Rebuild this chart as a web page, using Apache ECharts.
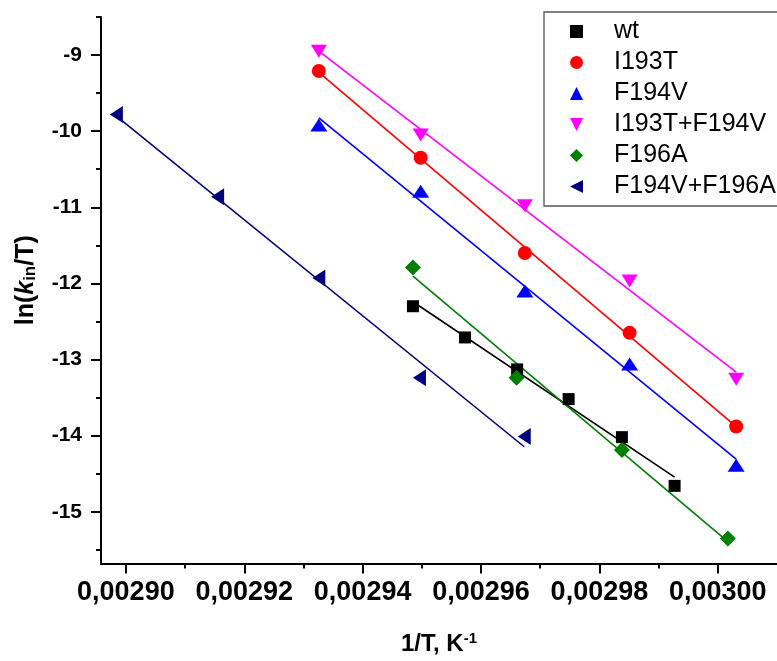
<!DOCTYPE html>
<html>
<head>
<meta charset="utf-8">
<script src="https://cdn.jsdelivr.net/npm/echarts@6/dist/echarts.min.js"></script>
<style>
  html, body { margin: 0; padding: 0; background: #fff; }
  #main { width: 777px; height: 661px; }
</style>
</head>
<body>
<div id="main"></div>
<script>
var dom = document.getElementById('main');
var myChart = echarts.init(dom, null, { renderer: 'canvas' });

var FONT = 'Liberation Sans, Arial, sans-serif';

// 1/T values (K^-1) and ln(k_in/T) per mutant
var invT_wt = [0.0029485, 0.0029573, 0.0029661, 0.0029748, 0.0029838, 0.0029927];
var lnk_wt = [-12.30, -12.71, -13.13, -13.52, -14.02, -14.66];

var invT_I193T = [0.0029326, 0.0029498, 0.0029674, 0.0029851, 0.0030031];
var lnk_I193T = [-9.21, -10.35, -11.60, -12.65, -13.88];

var invT_F194V = [0.0029326, 0.0029498, 0.0029674, 0.0029851, 0.0030031];
var lnk_F194V = [-9.92, -10.79, -12.10, -13.06, -14.39];

var invT_I193T_F194V = [0.0029326, 0.0029498, 0.0029674, 0.0029851, 0.0030031];
var lnk_I193T_F194V = [-8.95, -10.05, -10.98, -11.97, -13.26];

var invT_F196A = [0.0029485, 0.0029660, 0.0029838, 0.0030017];
var lnk_F196A = [-11.79, -13.24, -14.19, -15.35];

var invT_F194V_F196A = [0.0028984, 0.0029155, 0.0029326, 0.0029496, 0.0029673];
var lnk_F194V_F196A = [-9.78, -10.86, -11.93, -13.24, -14.01];

var names = ['wt', 'I193T', 'F194V', 'I193T+F194V', 'F196A', 'F194V+F196A'];
var colors = ['#000000', '#ff0000', '#0000ff', '#ff00ff', '#008000', '#000080'];

var xMajor = [0.00290, 0.00292, 0.00294, 0.00296, 0.00298, 0.00300];
var xMinor = [0.00291, 0.00293, 0.00295, 0.00297, 0.00299];
var yMajor = [-9, -10, -11, -12, -13, -14, -15];
var yMinor = [-8.5, -9.5, -10.5, -11.5, -12.5, -13.5, -14.5, -15.5];

var triDown = 'path://M0,0 L10,0 L5,10 Z';
var triLeft = 'path://M10,0 L10,10 L0,5 Z';

var groups = [
  { x: invT_wt, y: lnk_wt, symbol: 'rect', size: 12 },
  { x: invT_I193T, y: lnk_I193T, symbol: 'circle', size: 14 },
  { x: invT_F194V, y: lnk_F194V, symbol: 'triangle', size: [17, 13] },
  { x: invT_I193T_F194V, y: lnk_I193T_F194V, symbol: triDown, size: [16, 13] },
  { x: invT_F196A, y: lnk_F196A, symbol: 'diamond', size: [16, 16] },
  { x: invT_F194V_F196A, y: lnk_F194V_F196A, symbol: triLeft, size: [13, 17] }
];

// least squares line over the range of the points
function fitLine(xs, ys) {
  var n = xs.length, mx = 0, my = 0;
  for (var i = 0; i < n; i++) { mx += xs[i]; my += ys[i]; }
  mx /= n; my /= n;
  var sxy = 0, sxx = 0;
  for (var j = 0; j < n; j++) {
    sxy += (xs[j] - mx) * (ys[j] - my);
    sxx += (xs[j] - mx) * (xs[j] - mx);
  }
  var b = sxy / sxx, a = my - b * mx;
  var x0 = Math.min.apply(null, xs), x1 = Math.max.apply(null, xs);
  return [[x0, a + b * x0], [x1, a + b * x1]];
}

var series = [];
groups.forEach(function (g, k) {
  series.push({
    name: names[k] + ' fit',
    type: 'line',
    data: fitLine(g.x, g.y),
    symbol: 'none',
    silent: true,
    lineStyle: { color: colors[k], width: 1.6 },
    z: 2
  });
});
groups.forEach(function (g, k) {
  series.push({
    name: names[k],
    type: 'scatter',
    data: g.x.map(function (v, i) { return [v, g.y[i]]; }),
    symbol: g.symbol,
    symbolSize: g.size,
    itemStyle: { color: colors[k], opacity: 1 },
    z: 3
  });
});

var legendData = names.map(function (n, k) {
  return { name: n, icon: groups[k].symbol };
});

var xMin = 0.0028958, xMax = 0.00301;
var yMin = -15.68, yMax = -8.5;

var option = {
  animation: false,
  backgroundColor: '#ffffff',
  grid: { left: 101, top: 17, width: 680, height: 549 },
  legend: {
    orient: 'vertical',
    left: 544,
    top: 12,
    data: legendData,
    itemWidth: 13,
    itemHeight: 13,
    itemGap: 6,
    padding: [7, 80, 7, 26],
    borderColor: '#555',
    borderWidth: 1.3,
    formatter: function (n) { return '{sp|}' + n; },
    textStyle: {
      fontFamily: FONT, fontSize: 25, lineHeight: 25, color: '#000',
      rich: { sp: { width: 26 } }
    }
  },
  xAxis: [
    {
      type: 'value',
      min: xMin,
      max: xMax,
      position: 'bottom',
      name: '1/T, K{sup|-1}',
      nameLocation: 'middle',
      nameGap: 68,
      nameTextStyle: {
        fontFamily: FONT, fontSize: 24, fontWeight: 'bold', color: '#000',
        rich: { sup: { fontFamily: FONT, fontSize: 15, fontWeight: 'bold', color: '#000', verticalAlign: 'top', padding: [0, 0, 10, 0] } }
      },
      splitLine: { show: false },
      axisLine: { lineStyle: { color: '#000', width: 2 } },
      axisTick: { customValues: xMajor, length: 10, inside: false, lineStyle: { color: '#000', width: 2 } },
      axisLabel: {
        customValues: xMajor,
        margin: 16,
        fontFamily: FONT, fontSize: 27, fontWeight: 'bold', color: '#000',
        formatter: function (v) { return v.toFixed(5).replace('.', ','); }
      }
    },
    {
      type: 'value',
      min: xMin,
      max: xMax,
      position: 'bottom',
      splitLine: { show: false },
      axisLine: { show: false },
      axisTick: { customValues: xMinor, length: 5, lineStyle: { color: '#000', width: 2 } },
      axisLabel: { show: false }
    }
  ],
  yAxis: [
    {
      type: 'value',
      min: yMin,
      max: yMax,
      position: 'left',
      name: 'ln({k|k}{sub|in}/T)',
      nameLocation: 'middle',
      nameRotate: 90,
      nameGap: 62,
      nameTextStyle: {
        fontFamily: FONT, fontSize: 25, fontWeight: 'bold', color: '#000',
        padding: [0, 0, 0, 20],
        rich: {
          k: { fontFamily: FONT, fontSize: 25, fontWeight: 'bold', fontStyle: 'italic', color: '#000' },
          sub: { fontFamily: FONT, fontSize: 17, fontWeight: 'bold', color: '#000', verticalAlign: 'bottom', padding: [8, 0, 0, 0] }
        }
      },
      splitLine: { show: false },
      axisLine: { lineStyle: { color: '#000', width: 2 } },
      axisTick: { customValues: yMajor, length: 10, lineStyle: { color: '#000', width: 2 } },
      axisLabel: {
        customValues: yMajor,
        margin: 19,
        fontFamily: FONT, fontSize: 21, fontWeight: 'bold', color: '#000'
      }
    },
    {
      type: 'value',
      min: yMin,
      max: yMax,
      position: 'left',
      splitLine: { show: false },
      axisLine: { show: false },
      axisTick: { customValues: yMinor, length: 5, lineStyle: { color: '#000', width: 2 } },
      axisLabel: { show: false }
    }
  ],
  series: series
};

myChart.setOption(option);
window.addEventListener('resize', myChart.resize);
</script>
</body>
</html>
